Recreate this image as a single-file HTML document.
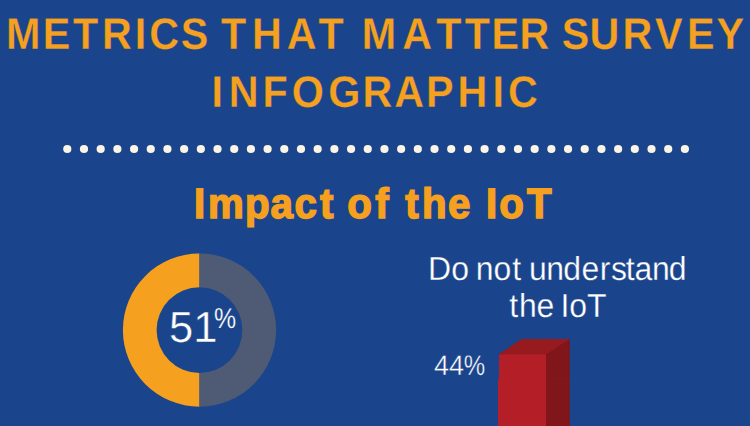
<!DOCTYPE html>
<html><head><meta charset="utf-8">
<style>
html,body{margin:0;padding:0;}
body{width:750px;height:426px;overflow:hidden;background:#1a458c;position:relative;font-family:"Liberation Sans",sans-serif;}
.abs{position:absolute;white-space:nowrap;line-height:1;transform-origin:0 0;text-rendering:geometricPrecision;}
#gfx{position:absolute;left:0;top:0;}
#p1{left:433.7px;top:351.35px;font-size:28.3px;font-weight:normal;color:#fff;transform:scaleX(0.9565);-webkit-text-stroke:0.4px #1a458c;}
#n1{left:169.02px;top:307.15px;font-size:43.6px;font-weight:normal;color:#fff;transform:scaleX(0.9987);-webkit-text-stroke:0.4px #1a458c;}
#p2,#pc{display:inline-block;position:relative;vertical-align:baseline;transform-origin:0 100%;-webkit-text-stroke:inherit;}
#p2{font-size:28.4px;transform:scaleX(0.886);left:0px;top:0px;-webkit-text-stroke:0.4px #1a458c;}
#pc{font-size:28.9px;transform:scaleX(0.862);left:-3.55px;top:-14.25px;-webkit-text-stroke:0.25px #1a458c;}
</style></head><body>
<svg id="gfx" width="750" height="426" viewBox="0 0 750 426">
<g fill="#fbf5e6"><ellipse cx="67.30" cy="149" rx="4.1" ry="3.9"/><ellipse cx="83.99" cy="149" rx="4.1" ry="3.9"/><ellipse cx="100.68" cy="149" rx="4.1" ry="3.9"/><ellipse cx="117.38" cy="149" rx="4.1" ry="3.9"/><ellipse cx="134.07" cy="149" rx="4.1" ry="3.9"/><ellipse cx="150.76" cy="149" rx="4.1" ry="3.9"/><ellipse cx="167.45" cy="149" rx="4.1" ry="3.9"/><ellipse cx="184.14" cy="149" rx="4.1" ry="3.9"/><ellipse cx="200.84" cy="149" rx="4.1" ry="3.9"/><ellipse cx="217.53" cy="149" rx="4.1" ry="3.9"/><ellipse cx="234.22" cy="149" rx="4.1" ry="3.9"/><ellipse cx="250.91" cy="149" rx="4.1" ry="3.9"/><ellipse cx="267.60" cy="149" rx="4.1" ry="3.9"/><ellipse cx="284.30" cy="149" rx="4.1" ry="3.9"/><ellipse cx="300.99" cy="149" rx="4.1" ry="3.9"/><ellipse cx="317.68" cy="149" rx="4.1" ry="3.9"/><ellipse cx="334.37" cy="149" rx="4.1" ry="3.9"/><ellipse cx="351.06" cy="149" rx="4.1" ry="3.9"/><ellipse cx="367.76" cy="149" rx="4.1" ry="3.9"/><ellipse cx="384.45" cy="149" rx="4.1" ry="3.9"/><ellipse cx="401.14" cy="149" rx="4.1" ry="3.9"/><ellipse cx="417.83" cy="149" rx="4.1" ry="3.9"/><ellipse cx="434.52" cy="149" rx="4.1" ry="3.9"/><ellipse cx="451.22" cy="149" rx="4.1" ry="3.9"/><ellipse cx="467.91" cy="149" rx="4.1" ry="3.9"/><ellipse cx="484.60" cy="149" rx="4.1" ry="3.9"/><ellipse cx="501.29" cy="149" rx="4.1" ry="3.9"/><ellipse cx="517.98" cy="149" rx="4.1" ry="3.9"/><ellipse cx="534.68" cy="149" rx="4.1" ry="3.9"/><ellipse cx="551.37" cy="149" rx="4.1" ry="3.9"/><ellipse cx="568.06" cy="149" rx="4.1" ry="3.9"/><ellipse cx="584.75" cy="149" rx="4.1" ry="3.9"/><ellipse cx="601.44" cy="149" rx="4.1" ry="3.9"/><ellipse cx="618.14" cy="149" rx="4.1" ry="3.9"/><ellipse cx="634.83" cy="149" rx="4.1" ry="3.9"/><ellipse cx="651.52" cy="149" rx="4.1" ry="3.9"/><ellipse cx="668.21" cy="149" rx="4.1" ry="3.9"/><ellipse cx="684.90" cy="149" rx="4.1" ry="3.9"/></g>
<path d="M199.5 253.45000000000002 A76.6 76.6 0 0 0 199.5 406.65 L199.5 372.95 A42.9 42.9 0 0 1 199.5 287.15000000000003 Z" fill="#f5a01f"/>
<path d="M199.5 253.45000000000002 A76.6 76.6 0 0 1 199.5 406.65 L199.5 372.95 A42.9 42.9 0 0 0 199.5 287.15000000000003 Z" fill="#4f5b74"/>
<polygon points="498,426 498,379 499,379 499,354.4 522,339 569.8,339 569.8,426" fill="#80151a"/>
<polygon points="499,354.4 522,339 569.8,339 546,354.4 546,356 499,356" fill="#961a1e"/>
<path d="M499 354.4H546V426H498V378.8H499Z" fill="#b41e26"/>
<rect x="546" y="378.4" width="23.8" height="0.8" fill="#861a1f"/>
<g font-family="Liberation Sans, sans-serif" font-weight="bold" font-size="44.4" fill="#f5a01f" stroke="#1a458c" stroke-width="0.3" text-rendering="geometricPrecision" transform="scale(0.93,1)">
<text y="49.2" x="6.37 45.85 78.47 109.77 144.88 160.47 194.27 215.94 237.60 270.99 308.40 342.44 365.75 389.06 432.60 469.00 499.65 528.54 558.70 581.32 603.95 633.92 669.45 704.40 738.76 770.49">METRICS THAT MATTER SURVEY</text>
<text y="107.2" x="227.40 246.04 282.35 313.81 353.09 389.88 423.99 458.06 491.96 529.45 546.17">INFOGRAPHIC</text>
</g>
<g font-family="Liberation Sans, sans-serif" font-weight="bold" font-size="42.4" fill="#f5a01f" stroke="#f5a01f" stroke-width="1.5" text-rendering="geometricPrecision" transform="scale(0.95,1)">
<text y="218.3" x="204.25 218.92 257.96 284.76 310.02 336.96 351.26 365.56 394.94 410.79 426.64 444.21 471.66 491.62 511.57 525.56 554.62">Impact of the IoT</text>
</g>
<g font-family="Liberation Sans, sans-serif" font-size="33.3" fill="#fff" stroke="#1a458c" stroke-width="0.3" text-rendering="geometricPrecision" transform="scale(0.96,1)">
<text y="280.2" x="445.73 470.13 482.83 495.52 514.20 533.47 542.25 551.02 569.11 586.69 605.64 624.86 636.47 651.75 660.98 679.16 696.58">Do not understand</text>
<text y="317.2" x="530.40 540.62 558.77 571.28 583.80 593.05 611.44">the IoT</text>
</g>
</svg>
<div class="abs" id="p1">44<span id="p2">%</span></div>
<div class="abs" id="n1">51<span id="pc">%</span></div>
</body></html>
